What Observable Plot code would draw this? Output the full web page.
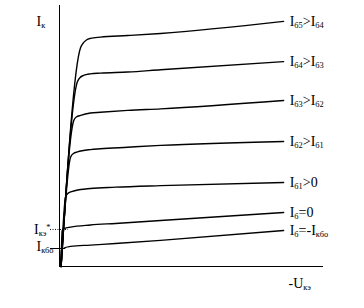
<!DOCTYPE html>
<html>
<head>
<meta charset="utf-8">
<script src="https://cdn.jsdelivr.net/npm/d3@7"></script>
<script src="https://cdn.jsdelivr.net/npm/@observablehq/plot@0.6"></script>
<style>
  html, body { margin: 0; padding: 0; background: #fff; }
  svg { display: block; }
</style>
</head>
<body>
<div id="chart"></div>
<script>
// Output characteristics: collector current vs collector-emitter voltage (arbitrary units 0..10)
const curveNames = ["I_{б5}>I_{б4}", "I_{б4}>I_{б3}", "I_{б3}>I_{б2}", "I_{б2}>I_{б1}", "I_{б1}>0", "I_{б}=0", "I_{б}=-I_{кбо}"];

const ib5U = [0.06, 0.80, 0.87, 1.02, 1.17, 1.55, 2.58, 3.83, 8.49];
const ib5I = [0.00, 8.39, 8.52, 8.68, 8.74, 8.79, 8.85, 8.93, 9.39];

const ib4U = [0.06, 0.67, 0.76, 0.91, 1.17, 1.55, 2.58, 3.83, 8.49];
const ib4I = [0.00, 7.06, 7.22, 7.32, 7.38, 7.41, 7.45, 7.54, 7.85];

const ib3U = [0.06, 0.54, 0.64, 0.80, 1.17, 1.55, 2.58, 3.83, 8.49];
const ib3I = [0.00, 5.59, 5.73, 5.79, 5.88, 5.91, 5.98, 6.04, 6.36];

const ib2U = [0.06, 0.42, 0.53, 0.68, 1.17, 1.55, 2.58, 3.83, 8.49];
const ib2I = [0.00, 4.19, 4.33, 4.39, 4.48, 4.51, 4.57, 4.64, 4.79];

const ib1U = [0.06, 0.23, 0.34, 0.61, 1.17, 2.12, 3.83, 8.49];
const ib1I = [0.00, 2.66, 2.82, 2.91, 2.99, 3.04, 3.10, 3.22];

const ib0U = [0.06, 0.10, 0.19, 0.42, 1.17, 2.12, 3.83, 8.49];
const ib0I = [0.00, 1.38, 1.46, 1.51, 1.59, 1.65, 1.76, 2.07];

const ibnU = [0.04, 0.07, 0.13, 0.42, 1.17, 2.12, 3.83, 8.49];
const ibnI = [0.00, 0.61, 0.69, 0.77, 0.82, 0.88, 1.00, 1.38];

const ceoLevel = 1.42;   // I_кэ* level
const cboLevel = 0.69;   // I_кбо level

const yLabel = "I_{к}";
const xLabel = "-U_{кэ}";
const ceoLabel = "I_{кэ}^{*}";
const cboLabel = "I_{кбо}";

// build table
const seriesU = [ib5U, ib4U, ib3U, ib2U, ib1U, ib0U, ibnU];
const seriesI = [ib5I, ib4I, ib3I, ib2I, ib1I, ib0I, ibnI];
const rows = [];
const ends = [];
curveNames.forEach((name, k) => {
  seriesU[k].forEach((u, i) => rows.push({name, u, i: seriesI[k][i]}));
  const n = seriesU[k].length - 1;
  ends.push({name, u: seriesU[k][n], i: seriesI[k][n]});
});

const font = "Liberation Serif, Times New Roman, serif";
const reach = 0.34;

const chart = Plot.plot({
  width: 364,
  height: 308,
  marginLeft: 59,
  marginRight: 41,
  marginTop: 5,
  marginBottom: 42,
  x: {domain: [0, 10], axis: null},
  y: {domain: [0, 10], axis: null},
  style: {fontFamily: font, background: "#fff"},
  marks: [
    Plot.ruleX([0], {stroke: "#000", strokeWidth: 1}),
    Plot.ruleY([0], {stroke: "#000", strokeWidth: 1}),
    Plot.ruleY([ceoLevel], {x1: -reach, x2: reach, stroke: "#000", strokeWidth: 1, strokeDasharray: "1,1.5"}),
    Plot.ruleY([cboLevel], {x1: -reach, x2: reach * 0.7, stroke: "#000", strokeWidth: 1}),
    Plot.line(rows, {x: "u", y: "i", z: "name", curve: "monotone-x", stroke: "#000", strokeWidth: 1.4}),
    Plot.text(ends, {x: "u", y: "i", text: "name", dx: 6, textAnchor: "start", fontSize: 14, fill: "#000"}),
    Plot.text([yLabel], {frameAnchor: "top-left", dx: -23, dy: 11, textAnchor: "start", lineAnchor: "top", fontSize: 14, fill: "#000"}),
    Plot.text([xLabel], {frameAnchor: "bottom-right", dx: -35, dy: 12, textAnchor: "start", lineAnchor: "top", fontSize: 14, fill: "#000"}),
    Plot.text([ceoLabel], {x: 0, y: ceoLevel, dx: -9, textAnchor: "end", fontSize: 14, fill: "#000"}),
    Plot.text([cboLabel], {x: 0, y: cboLevel, dx: -6, dy: -2, textAnchor: "end", fontSize: 14, fill: "#000"})
  ]
});

// turn _{..} / ^{..} markup into subscript / superscript tspans
function richify(svg) {
  svg.querySelectorAll("text").forEach(t => {
    const targets = t.querySelectorAll("tspan").length ? Array.from(t.querySelectorAll("tspan")) : [t];
    targets.forEach(el => {
      const s = el.textContent;
      if (!/[_^]\{/.test(s)) return;
      el.textContent = "";
      const re = /([_^])\{([^}]*)\}|([^_^]+)/g;
      let m;
      while ((m = re.exec(s))) {
        const ts = document.createElementNS("http://www.w3.org/2000/svg", "tspan");
        if (m[3] !== undefined) {
          ts.textContent = m[3];
        } else {
          ts.textContent = m[2];
          ts.setAttribute("font-size", "0.6em");
          ts.setAttribute("baseline-shift", m[1] === "_" ? "-30%" : "45%");
        }
        el.appendChild(ts);
      }
    });
  });
}
richify(chart);
document.getElementById("chart").appendChild(chart);
</script>
</body>
</html>
